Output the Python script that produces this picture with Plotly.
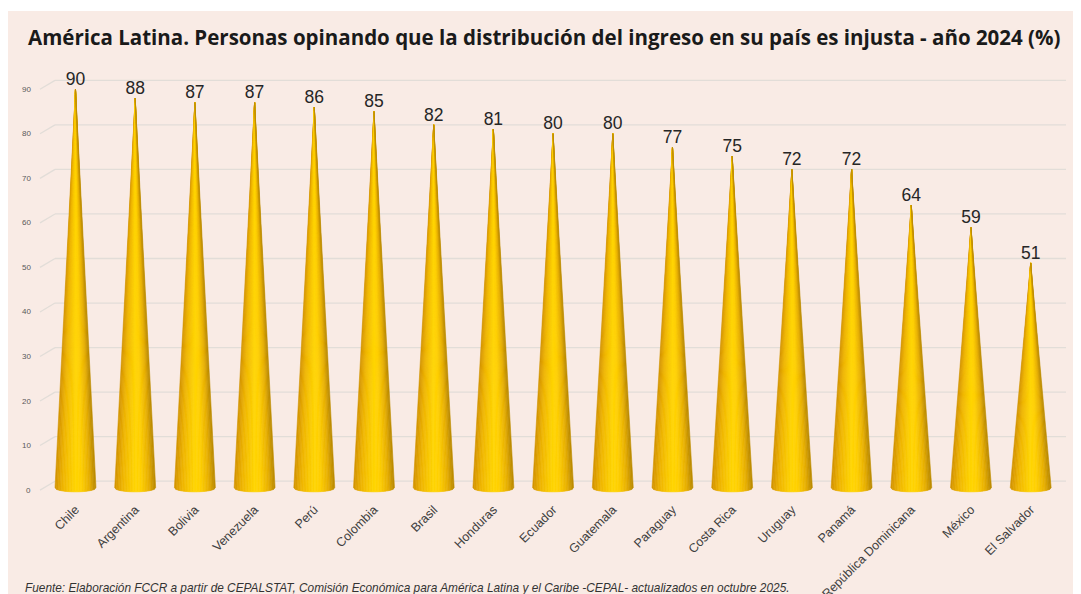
import numpy as np
import plotly.graph_objects as go

# ---------------- data ----------------
countries = ["Chile", "Argentina", "Bolivia", "Venezuela", "Perú", "Colombia", "Brasil",
             "Honduras", "Ecuador", "Guatemala", "Paraguay", "Costa Rica", "Uruguay",
             "Panamá", "República Dominicana", "México", "El Salvador"]
values = [90, 88, 87, 87, 86, 85, 82, 81, 80, 80, 77, 75, 72, 72, 64, 59, 51]
y_ticks = [0, 10, 20, 30, 40, 50, 60, 70, 80, 90]
title_text = ("América Latina. Personas opinando que la distribución del ingreso "
              "en su país es injusta - año 2024 (%)")
source_text = ("Fuente: Elaboración FCCR a partir de CEPALSTAT, Comisión Económica para "
               "América Latina y el Caribe -CEPAL- actualizados en octubre 2025.")

# ---------------- layout geometry ----------------
# The page has an 8px body margin, so the figure is placed at (8, 8) in the window.
OFF = 8
W, H = 1081 - OFF, 594 - OFF
ml, mr, mt, mb = 54 - OFF, 15, 67 - OFF, 95
pw, ph = W - ml - mr, H - mt - mb
px_per_cat = 59.7
x_range = [-0.36, -0.36 + pw / px_per_cat]
y_range = [-2, 95]
BG = "#F9EBE5"


def pxx(px):   # window x pixel -> paper x
    return (px - OFF - ml) / pw


def pxy(py):   # window y pixel -> paper y
    return (H - mb - (py - OFF)) / ph


# ---------------- cone shading ----------------
key_t = [-1.0, -0.6, 0.0, 0.3, 0.7, 1.0]
key_c = [(210, 146, 0), (240, 182, 0), (255, 214, 0), (255, 208, 0), (232, 176, 0), (184, 136, 0)]


def shade(t):
    r = np.interp(t, key_t, [c[0] for c in key_c])
    g = np.interp(t, key_t, [c[1] for c in key_c])
    b = np.interp(t, key_t, [c[2] for c in key_c])
    return f"rgb({int(r)},{int(g)},{int(b)})"


half_w = 0.343      # half base width in category units
base_c, base_d = 0.5, 0.9   # ellipse of the base (data units)
N = 26
edges = np.linspace(-1, 1, N + 1)

fig = go.Figure()
for j in range(N):
    u_pts = np.linspace(edges[j], edges[j + 1], 4)
    xs, ys = [], []
    for i, v in enumerate(values):
        for u in u_pts:
            xs.append(i + u * half_w)
            ys.append(base_c - base_d * np.sqrt(max(0.0, 1 - u * u)))
        xs.append(i)
        ys.append(v)
        xs.append(i + u_pts[0] * half_w)
        ys.append(base_c - base_d * np.sqrt(max(0.0, 1 - u_pts[0] ** 2)))
        xs.append(None)
        ys.append(None)
    col = shade((edges[j] + edges[j + 1]) / 2)
    fig.add_trace(go.Scatter(x=xs, y=ys, mode="lines", fill="toself", fillcolor=col,
                             line=dict(color=col, width=0.6), hoverinfo="skip",
                             showlegend=False))

# data labels
fig.add_trace(go.Scatter(x=list(range(len(values))), y=values, mode="text",
                         text=[str(v) for v in values], textposition="top center",
                         textfont=dict(family="Liberation Sans, Arial", size=17.5, color="#262626"),
                         hoverinfo="skip", showlegend=False))

shapes = []
# white strip above the pink panel
shapes.append(dict(type="rect", xref="paper", yref="paper", x0=pxx(0), x1=pxx(1081),
                   y0=pxy(11), y1=pxy(0), fillcolor="white", line=dict(width=0), layer="below"))
# pseudo-3D gridlines
for v in y_ticks:
    shapes.append(dict(type="line", xref="paper", yref="y", x0=pxx(55), x1=pxx(1066),
                       y0=v + 2, y1=v + 2, line=dict(color="#E2DDD8", width=1.3), layer="below"))
    shapes.append(dict(type="line", xref="paper", yref="y", x0=pxx(40), x1=pxx(55),
                       y0=v, y1=v + 2, line=dict(color="#E2DDD8", width=1.3), layer="below"))

annotations = []
for v in y_ticks:
    annotations.append(dict(xref="paper", yref="y", x=pxx(33), y=v, xanchor="right",
                            yanchor="middle", text=str(v), showarrow=False,
                            font=dict(family="Liberation Sans, Arial", size=8, color="#595959")))
annotations.append(dict(xref="paper", yref="paper", x=pxx(544), y=pxy(37), xanchor="center",
                        yanchor="middle", text=f"<b>{title_text}</b>", showarrow=False,
                        font=dict(family="Open Sans", size=20.5, color="#1a1a1a")))
annotations.append(dict(xref="paper", yref="paper", x=pxx(23), y=pxy(588), xanchor="left",
                        yanchor="middle", text=f"<i>{source_text}</i>", showarrow=False,
                        font=dict(family="Liberation Sans, Arial", size=11.85, color="#333333")))

fig.update_layout(
    width=W, height=H,
    margin=dict(l=ml, r=mr, t=mt, b=mb, pad=0, autoexpand=False),
    paper_bgcolor=BG, plot_bgcolor=BG,
    shapes=shapes, annotations=annotations,
    xaxis=dict(range=x_range, tickmode="array", tickvals=list(range(len(countries))),
               ticktext=countries, tickangle=-45, showgrid=False, zeroline=False,
               showline=False, ticks="", automargin=False,
               tickfont=dict(family="Liberation Sans, Arial", size=12.5, color="#404040")),
    yaxis=dict(range=y_range, showgrid=False, zeroline=False, showline=False,
               showticklabels=False, ticks="", automargin=False),
)

fig.write_html("out.html", config={"displayModeBar": False})
